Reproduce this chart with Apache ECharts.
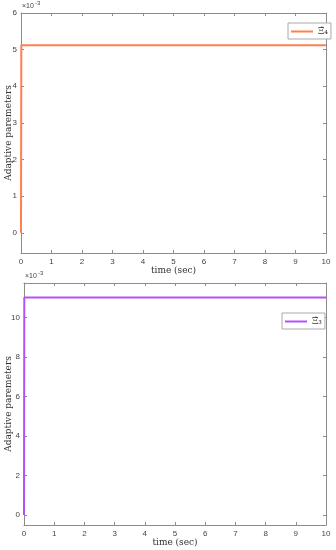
<!DOCTYPE html>
<html><head><meta charset="utf-8">
<script src="https://cdn.jsdelivr.net/npm/echarts@6/dist/echarts.min.js"></script>
<style>html,body{margin:0;padding:0;background:#fff}#c{width:336px;height:550px}</style>
</head><body><div id="c"></div>
<script>
// values in units of 1e-3
const time = [0, 0.01, 10];
const param1 = [0, 5.12, 5.12];
const param2 = [0, 11.02, 11.02];
const xTicks = [0,1,2,3,4,5,6,7,8,9,10];
const yTicks1 = [0,1,2,3,4,5,6];
const yTicks2 = [0,2,4,6,8,10];
const name1 = 'Ξ̂₄';
const name2 = 'Ξ̂₃';

const axCol = '#8c8c8c';
const lblCol = '#444';
const serif = '"DejaVu Serif","Liberation Serif",serif';
function xAx(grid, pos, show){
  return {type:'value', gridIndex:grid, position:pos, min:0, max:10,
    axisLine:{show:true,onZero:false,lineStyle:{color:axCol,width:1}},
    axisTick:{show:true,inside:true,length:3,lineStyle:{color:axCol},customValues:xTicks},
    axisLabel:{show:show,fontSize:8,color:lblCol,margin:5,fontFamily:'Liberation Sans',customValues:xTicks},
    splitLine:{show:false},
    name: show? 'time (sec)':'', nameLocation:'middle', nameGap:13, nameMoveOverlap:false,
    nameTextStyle:{fontFamily:serif,fontSize:9,color:'#333'}};
}
function yAx(grid,pos,show,min,max,ticks,gap){
  return {type:'value', gridIndex:grid, position:pos, min:min, max:max,
    axisLine:{show:true,onZero:false,lineStyle:{color:axCol,width:1}},
    axisTick:{show:true,inside:true,length:3,lineStyle:{color:axCol},customValues:ticks},
    axisLabel:{show:show,fontSize:8,color:lblCol,margin:4,fontFamily:'Liberation Sans',customValues:ticks},
    splitLine:{show:false},
    name: show? 'Adaptive paremeters':'', nameLocation:'middle', nameGap:gap, nameMoveOverlap:false,
    nameTextStyle:{fontFamily:serif,fontSize:9,color:'#333'}};
}
const chart = echarts.init(document.getElementById('c'));
chart.setOption({
  animation:false,
  grid:[{left:21,right:10,top:13,height:240,containLabel:false,outerBoundsMode:'none'},
        {left:24,right:10,top:283,height:242,containLabel:false,outerBoundsMode:'none'}],
  xAxis:[xAx(0,'bottom',true), xAx(0,'top',false), xAx(1,'bottom',true), xAx(1,'top',false)],
  yAxis:[yAx(0,'left',true,-0.55,6,yTicks1,8), yAx(0,'right',false,-0.55,6,yTicks1,0),
         yAx(1,'left',true,-0.5,11.75,yTicks2,11), yAx(1,'right',false,-0.5,11.75,yTicks2,0)],
  legend:[
    {data:[name1], left:288, top:23, orient:'vertical', icon:'rect', itemWidth:22, itemHeight:2, itemGap:2,
     padding:[4,3,3,3], borderColor:'#aaa', borderWidth:1, backgroundColor:'#fff',
     textStyle:{fontFamily:serif,fontSize:9,color:'#333'}},
    {data:[name2], left:282, top:313, orient:'vertical', icon:'rect', itemWidth:22, itemHeight:2, itemGap:2,
     padding:[4,3,3,3], borderColor:'#aaa', borderWidth:1, backgroundColor:'#fff',
     textStyle:{fontFamily:serif,fontSize:9,color:'#333'}}
  ],
  graphic:[
    {type:'text', left:22, top:3, style:{text:'×10', fontSize:7, fill:lblCol, fontFamily:'Liberation Sans'}},
    {type:'text', left:35, top:0, style:{text:'-3', fontSize:6, fill:lblCol, fontFamily:'Liberation Sans'}},
    {type:'text', left:25, top:273, style:{text:'×10', fontSize:7, fill:lblCol, fontFamily:'Liberation Sans'}},
    {type:'text', left:38, top:270, style:{text:'-3', fontSize:6, fill:lblCol, fontFamily:'Liberation Sans'}}
  ],
  series:[
    {name:name1, type:'line', xAxisIndex:0, yAxisIndex:0, symbol:'none',
     data: time.map((t,i)=>[t,param1[i]]), lineStyle:{color:'#FF7F4F',width:2}, itemStyle:{color:'#FF7F4F'}},
    {name:name2, type:'line', xAxisIndex:2, yAxisIndex:2, symbol:'none',
     data: time.map((t,i)=>[t,param2[i]]), lineStyle:{color:'#B450FA',width:2}, itemStyle:{color:'#B450FA'}}
  ]
});
</script></body></html>
